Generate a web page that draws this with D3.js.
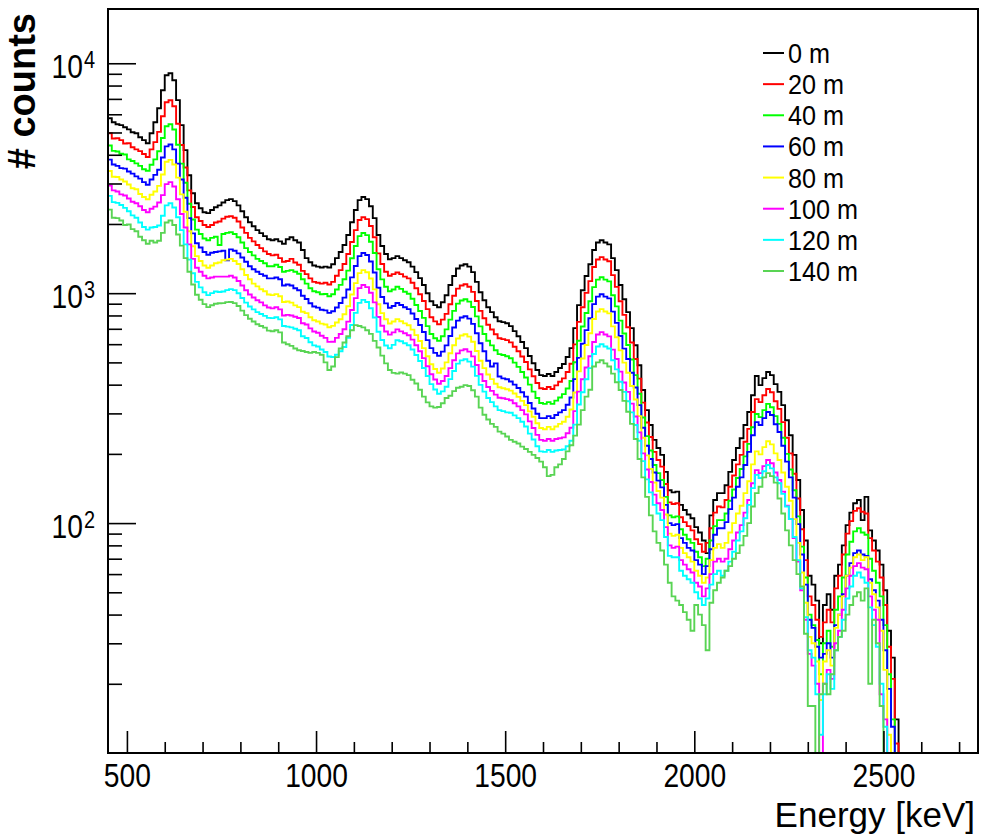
<!DOCTYPE html>
<html>
<head>
<meta charset="utf-8">
<script src="https://cdn.jsdelivr.net/npm/d3@7"></script>
<style>
  body { margin: 0; background: #fff; }
  svg { display: block; }
  text { font-family: "Liberation Sans", Arial, Helvetica, sans-serif; fill: #000; }
</style>
</head>
<body>
<svg id="chart" width="984" height="839"></svg>
<script>
// Energy spectra, 10 keV bins starting at 450 keV
const binStart = 450;
const binWidth = 10;

const seriesLabels = ["0 m", "20 m", "40 m", "60 m", "80 m", "100 m", "120 m", "140 m"];
const seriesColors = ["#000000", "#ff0000", "#00ff00", "#0000ff", "#ffff00", "#ff00ff", "#00ffff", "#59d454"];

const counts0m = [
  5770,5540,5430,5380,5270,5160,5010,4960,4770,4630,
  4490,4960,5540,6370,7630,8870,9050,8440,6910,5380,
  4190,3260,2720,2460,2340,2250,2230,2300,2365,2410,
  2480,2540,2565,2515,2410,2270,2140,2036,1955,1880,
  1824,1770,1717,1700,1717,1680,1640,1717,1750,1700,
  1660,1540,1420,1363,1320,1305,1293,1305,1293,1336,
  1420,1510,1620,1790,2036,2300,2540,2620,2565,2390,
  2120,1790,1605,1480,1405,1420,1450,1420,1390,1363,
  1305,1235,1163,1085,1000,923,887,868,913,980,
  1085,1188,1280,1320,1336,1305,1235,1120,1010,932,
  868,827,786,755,748,740,719,684,650,613,
  577,533,496,463,440,436,445,436,454,473,
  492,528,577,705,887,1030,1188,1336,1540,1660,
  1700,1660,1630,1420,1260,1085,941,827,705,594,
  486,379,310,267,230,212,198,167,139,136,
  137,120,114,109,105,96,91,84,74,108,
  126,135,135,146,167,188,212,234,267,304,
  360,436,398,427,454,440,402,372,326,280,
  241,198,154,114,84,59,54,46,30,44,
  49,42,59,66,80,98,111,122,126,103,
  130,93,84,76,66,51,34,26,14,0,
  0
];

const counts20m = [
  4960,4710,4720,4630,4480,4490,4310,4220,4150,4030,
  3910,4220,4540,5030,5880,6770,6900,6500,5460,4410,
  3520,2800,2370,2140,2060,1980,1940,1980,2030,2050,
  2110,2150,2160,2130,2050,1930,1830,1740,1680,1620,
  1570,1520,1480,1460,1470,1420,1370,1380,1410,1360,
  1330,1250,1210,1160,1120,1110,1100,1110,1090,1120,
  1190,1260,1340,1480,1670,1880,2080,2140,2100,1960,
  1750,1490,1340,1240,1190,1210,1230,1210,1180,1160,
  1110,1050,990,925,852,786,754,733,767,813,
  895,974,1047,1080,1093,1067,1013,924,838,778,
  729,695,663,637,631,625,611,585,559,530,
  502,466,435,407,386,383,391,383,397,412,
  426,454,493,599,750,869,1003,1128,1300,1401,
  1435,1401,1376,1198,1065,922,805,711,610,517,
  425,334,274,237,204,188,176,148,123,121,
  122,106,101,97,93,85,81,75,82,95,
  111,118,117,126,144,161,180,198,226,257,
  304,346,336,360,383,371,339,314,275,235,
  201,164,128,94,69,48,44,38,32,37,
  42,37,52,59,73,90,102,113,116,112,
  110,86,76,68,58,44,29,21,11,0,
  0
];

const counts40m = [
  4390,4160,4130,4040,4010,3820,3760,3670,3580,3460,
  3410,3620,3820,4140,4730,5320,5430,5150,4420,3660,
  3020,2450,2090,1890,1810,1730,1700,1740,1760,1620,
  1810,1830,1840,1810,1750,1660,1570,1510,1460,1410,
  1380,1350,1310,1310,1330,1300,1240,1250,1260,1240,
  1215,1150,1100,1050,1020,1010,989,992,970,989,
  1037,1087,1150,1253,1419,1603,1770,1826,1788,1673,
  1495,1271,1148,1066,1019,1037,1066,1044,1015,995,
  946,889,837,781,719,664,637,621,650,696,
  767,838,901,929,941,919,871,793,717,664,
  621,593,565,543,538,532,521,499,478,454,
  430,400,373,350,333,330,336,330,341,352,
  364,385,415,501,621,716,820,922,1063,1145,
  1173,1145,1125,980,876,760,668,595,515,440,
  365,288,239,207,179,165,154,130,108,106,
  107,94,89,85,82,75,71,65,70,84,
  97,103,103,110,125,140,157,172,195,221,
  261,298,289,310,330,319,292,270,235,200,
  171,139,107,79,58,40,36,31,22,30,
  34,29,42,48,58,73,83,92,95,91,
  89,70,62,55,48,36,22,14,0,0,
  0
];

const counts60m = [
  3810,3630,3580,3500,3480,3380,3310,3220,3150,3040,
  2960,3120,3270,3440,3890,4350,4430,4220,3660,3120,
  2600,2120,1820,1650,1580,1510,1470,1500,1510,1520,
  1530,1390,1550,1530,1490,1430,1370,1310,1270,1240,
  1210,1190,1160,1160,1170,1150,1080,1090,1080,1050,
  1030,975,944,904,875,865,847,842,821,835,
  866,906,956,1038,1171,1313,1450,1496,1465,1374,
  1230,1056,963,903,864,880,906,888,869,852,
  816,772,727,678,625,577,550,534,557,593,
  651,709,760,784,794,775,735,669,606,559,
  508,480,495,434,426,422,413,400,387,371,
  355,333,315,299,286,286,292,286,295,303,
  310,327,352,423,523,603,691,778,896,966,
  989,966,949,831,743,651,574,517,451,389,
  326,260,217,190,166,153,143,120,100,98,
  99,86,82,78,76,69,66,60,65,77,
  89,95,95,101,115,129,144,158,179,204,
  241,275,267,286,304,295,269,249,217,185,
  158,129,99,73,54,38,35,29,26,27,
  30,26,36,40,49,59,67,74,76,73,
  72,57,51,46,38,28,19,13,0,0,
  0
];

const counts80m = [
  3400,3210,3200,3120,3060,2970,2860,2830,2700,2620,
  2560,2680,2770,2930,3280,3730,3800,3630,3180,2690,
  2260,1860,1600,1450,1380,1320,1290,1320,1350,1360,
  1390,1400,1410,1380,1340,1270,1200,1150,1100,1070,
  1040,1020,987,981,991,969,915,920,910,885,
  870,830,819,786,762,753,737,731,711,721,
  746,770,810,877,987,1106,1222,1260,1234,1159,
  1039,895,819,770,738,753,771,755,739,725,
  694,657,619,577,532,491,468,451,470,500,
  548,594,635,655,663,647,615,560,508,472,
  443,423,404,390,386,382,377,366,354,340,
  326,306,290,272,259,256,262,256,263,270,
  276,290,312,370,457,520,595,669,772,832,
  852,832,817,717,643,564,499,451,395,345,
  292,235,197,172,150,138,129,109,90,88,
  89,78,74,71,68,62,59,55,58,69,
  78,81,78,82,91,100,110,119,135,152,
  180,205,199,214,227,220,201,188,166,144,
  125,104,82,61,45,32,30,25,17,25,
  28,24,35,40,48,59,64,71,73,69,
  71,55,49,43,34,23,12,0,0,0,
  0
];

const counts100m = [
  2940,2800,2770,2690,2660,2580,2500,2460,2390,2300,
  2250,2330,2380,2480,2670,2980,3040,2910,2560,2210,
  1930,1630,1410,1290,1240,1190,1160,1170,1180,1180,
  1180,1180,1190,1170,1130,1080,1030,987,958,931,
  912,885,867,859,869,850,800,805,800,790,
  780,740,731,703,681,673,653,639,614,615,
  639,664,697,752,845,952,1052,1085,1062,1004,
  912,788,722,681,660,675,696,682,669,656,
  628,594,559,522,481,444,421,404,415,436,
  472,511,547,564,570,557,531,487,444,415,
  391,376,362,351,349,346,342,332,322,310,
  297,277,259,242,230,228,232,228,232,234,
  236,246,260,307,373,422,475,532,613,661,
  677,661,649,568,517,456,409,372,331,291,
  248,201,171,151,133,122,114,96,80,78,
  79,69,66,63,61,55,53,48,52,60,
  68,70,68,70,77,84,91,98,111,126,
  149,170,165,177,188,182,166,154,137,119,
  104,86,68,51,38,27,24,20,5,20,
  23,21,30,34,42,52,59,65,67,64,
  63,48,42,38,18,14,0,0,0,0,
  0
];

const counts120m = [
  2650,2490,2470,2420,2350,2270,2180,2130,2030,1940,
  1890,1930,1940,1970,2170,2410,2460,2360,2140,1880,
  1630,1400,1220,1120,1060,1010,981,1001,1017,1012,
  1017,1031,1041,1031,1000,953,910,875,850,827,
  812,797,781,779,786,769,720,715,710,700,
  690,650,638,612,593,586,569,555,530,528,
  540,559,583,639,727,821,907,935,916,860,
  784,680,626,592,576,596,624,618,606,594,
  569,538,507,473,436,402,381,365,374,392,
  423,459,494,510,516,504,479,437,399,373,
  350,336,322,310,307,303,302,294,286,276,
  263,245,231,216,205,204,208,204,207,208,
  209,216,228,268,328,371,422,472,544,586,
  600,586,575,511,466,412,372,339,303,267,
  228,186,155,136,120,110,103,87,72,71,
  71,62,59,57,55,50,47,44,47,54,
  60,62,59,62,68,75,84,92,105,120,
  142,162,157,168,179,173,158,149,134,118,
  104,87,69,52,39,28,26,18,12,18,
  22,19,28,32,38,47,53,59,61,58,
  55,43,36,29,20,13,0,0,0,0,
  0
];

const counts140m = [
  2310,2130,2120,2070,1980,1990,1900,1860,1760,1700,
  1640,1690,1660,1690,1830,2030,2070,1980,1800,1610,
  1420,1240,1090,984,936,896,870,886,899,904,
  905,914,916,905,880,840,803,774,753,733,
  720,708,687,683,690,675,610,600,590,575,
  565,560,555,550,555,550,540,500,463,480,
  527,575,610,650,690,726,720,710,690,665,
  620,580,535,495,463,450,447,452,447,440,
  420,405,380,355,335,322,318,320,332,350,
  358,375,388,392,398,395,378,355,318,296,
  282,270,262,250,245,238,230,226,222,215,
  210,204,198,192,185,175,160,162,175,180,
  190,205,218,240,268,310,355,380,480,500,
  511,495,480,447,410,379,340,305,270,232,
  190,158,130,108,92,82,76,66,55,48,
  46,44,41,38,34,44,40,36,28,45,
  51,55,58,62,65,70,74,80,88,100,
  118,135,144,158,165,160,150,128,110,93,
  80,69,60,53,33,16,16,5,18,20,
  18,22,28,32,34,40,44,48,50,46,
  52,20,38,30,16,0,0,0,0,0,
  0
];

const seriesCounts = [counts0m, counts20m, counts40m, counts60m, counts80m, counts100m, counts120m, counts140m];

// Axis ticks
const xMajorTicks = [500, 1000, 1500, 2000, 2500];
const xMinorTicks = [600, 700, 800, 900, 1100, 1200, 1300, 1400, 1600, 1700, 1800, 1900,
                     2100, 2200, 2300, 2400, 2600, 2700];
const yMajorTicks = [100, 1000, 10000];
const yMajorExponents = ["2", "3", "4"];
const yMinorTicks = [20, 30, 40, 50, 60, 70, 80, 90,
                     200, 300, 400, 500, 600, 700, 800, 900,
                     2000, 3000, 4000, 5000, 6000, 7000, 8000, 9000];

const xTitle = "Energy [keV]";
const yTitle = "# counts";

// Layout
const frame = { left: 108, right: 978, top: 9, bottom: 753 };
const yMin = 10, yMax = 17220;

const svg = d3.select("#chart");
svg.append("rect").attr("width", 984).attr("height", 839).attr("fill", "#fff");

const x = d3.scaleLinear().domain([450, 2750]).range([frame.left, frame.right]);
const y = d3.scaleLog().domain([yMin, yMax]).range([frame.bottom, frame.top]);

svg.append("defs").append("clipPath").attr("id", "plot-clip")
  .append("rect")
  .attr("x", frame.left).attr("y", frame.top)
  .attr("width", frame.right - frame.left).attr("height", frame.bottom - frame.top);

// Histogram outlines
const table = seriesLabels.map((label, k) => {
  const vals = seriesCounts[k];
  const pts = vals.map((v, i) => ({ e: binStart + i * binWidth, v }));
  pts.push({ e: binStart + vals.length * binWidth, v: vals[vals.length - 1] });
  return { label, color: seriesColors[k], pts };
});

const step = d3.line()
  .x(d => x(d.e))
  .y(d => y(Math.max(d.v, yMin)))
  .curve(d3.curveStepAfter);

const plot = svg.append("g").attr("clip-path", "url(#plot-clip)");
plot.selectAll("path.hist")
  .data(table)
  .join("path")
  .attr("class", "hist")
  .attr("fill", "none")
  .attr("stroke", d => d.color)
  .attr("stroke-width", 1.9)
  .attr("stroke-linejoin", "miter")
  .attr("d", d => step(d.pts));

// Axes (ticks pointing into the frame)
const tickStroke = g => g.selectAll(".tick line").attr("stroke", "#000").attr("stroke-width", 1.6);

const gxMinor = svg.append("g").attr("transform", `translate(0,${frame.bottom})`)
  .call(d3.axisBottom(x).tickValues(xMinorTicks).tickSizeInner(-11).tickSizeOuter(0).tickFormat(""));
gxMinor.select(".domain").remove();
gxMinor.call(tickStroke);

const gxMajor = svg.append("g").attr("transform", `translate(0,${frame.bottom})`)
  .call(d3.axisBottom(x).tickValues(xMajorTicks).tickSizeInner(-22).tickSizeOuter(0)
    .tickPadding(10).tickFormat(d3.format("d")));
gxMajor.select(".domain").remove();
gxMajor.call(tickStroke);
gxMajor.selectAll(".tick text")
  .attr("font-size", 34)
  .attr("font-family", "'Liberation Sans', Arial, sans-serif")
  .attr("fill", "#000")
  .attr("transform", "scale(0.83,1)");

const gyMinor = svg.append("g").attr("transform", `translate(${frame.left},0)`)
  .call(d3.axisLeft(y).tickValues(yMinorTicks).tickSizeInner(-14).tickSizeOuter(0).tickFormat(""));
gyMinor.select(".domain").remove();
gyMinor.call(tickStroke);

const gyMajor = svg.append("g").attr("transform", `translate(${frame.left},0)`)
  .call(d3.axisLeft(y).tickValues(yMajorTicks).tickSizeInner(-28).tickSizeOuter(0).tickFormat(""));
gyMajor.select(".domain").remove();
gyMajor.call(tickStroke);

// Power-of-ten labels
const yLab = svg.append("g");
yMajorTicks.forEach((v, i) => {
  const ty = y(v);
  yLab.append("text")
    .attr("transform", `translate(83,${ty + 15}) scale(0.83,1)`)
    .attr("text-anchor", "end")
    .attr("font-size", 34)
    .text("10");
  yLab.append("text")
    .attr("transform", `translate(84,${ty + 5}) scale(0.83,1)`)
    .attr("text-anchor", "start")
    .attr("font-size", 24)
    .text(yMajorExponents[i]);
});

// Frame
svg.append("rect")
  .attr("x", frame.left).attr("y", frame.top)
  .attr("width", frame.right - frame.left).attr("height", frame.bottom - frame.top)
  .attr("fill", "none").attr("stroke", "#000").attr("stroke-width", 2);

// Axis titles
svg.append("text")
  .attr("x", 975).attr("y", 827)
  .attr("text-anchor", "end")
  .attr("font-size", 35)
  .text(xTitle);

svg.append("text")
  .attr("transform", "translate(35,13) rotate(-90)")
  .attr("text-anchor", "end")
  .attr("font-size", 38)
  .attr("font-weight", "bold")
  .text(yTitle);

// Legend
const rowY = d3.scaleLinear().domain([0, seriesLabels.length - 1]).range([53, 271]);
const legend = svg.append("g");
const rows = legend.selectAll("g").data(table).join("g")
  .attr("transform", (d, i) => `translate(0,${rowY(i)})`);
rows.append("line")
  .attr("x1", 763).attr("x2", 784).attr("y1", 0).attr("y2", 0)
  .attr("stroke", d => d.color).attr("stroke-width", 2);
rows.append("text")
  .attr("transform", "translate(788,10) scale(0.9,1)")
  .attr("font-size", 28)
  .text(d => d.label);
</script>
</body>
</html>
